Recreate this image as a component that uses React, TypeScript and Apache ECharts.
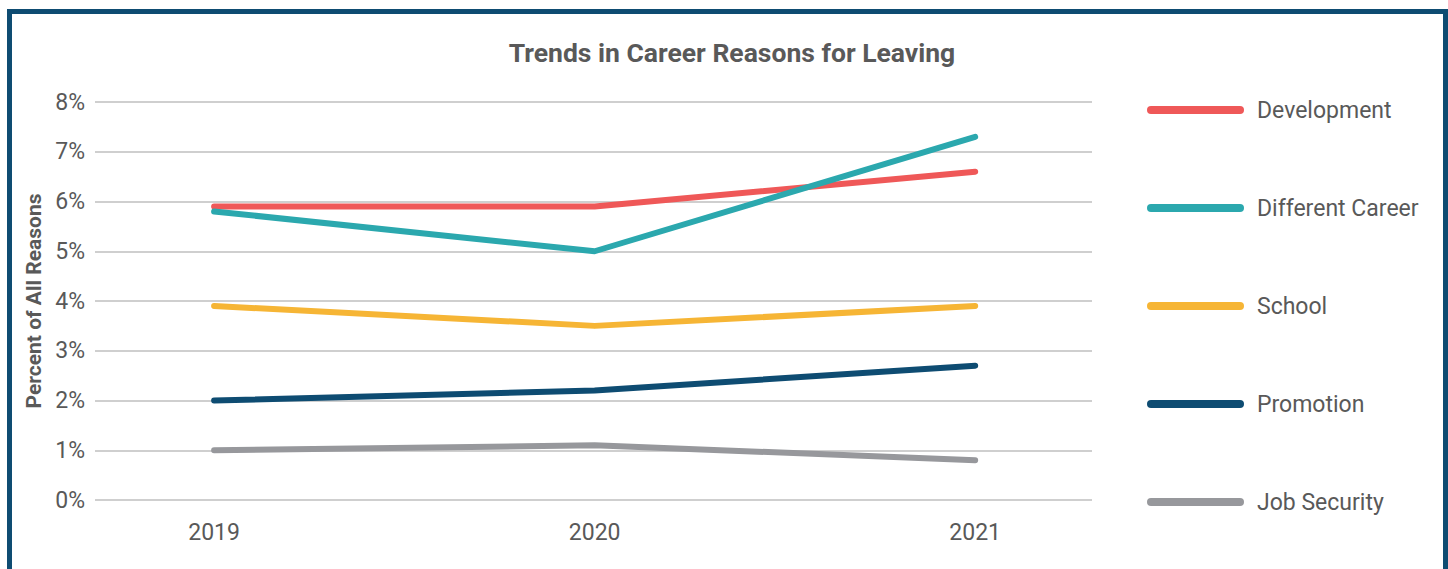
import React, { useEffect, useRef } from "react";
import * as echarts from "echarts";

const years = [2019, 2020, 2021];
const yTicks = [0, 1, 2, 3, 4, 5, 6, 7, 8];
const seriesNames = ["Development", "Different Career", "School", "Promotion", "Job Security"];
const development = [5.9, 5.9, 6.6];
const differentCareer = [5.8, 5.0, 7.3];
const school = [3.9, 3.5, 3.9];
const promotion = [2.0, 2.2, 2.7];
const jobSecurity = [1.0, 1.1, 0.8];
const colors = ["#EF5858", "#2BA8AE", "#F6B535", "#0E4C72", "#97989C"];

const FONT = "Roboto, 'Noto Sans', sans-serif";

export default function App() {
  const ref = useRef<HTMLDivElement>(null);
  useEffect(() => {
    document.body.style.margin = "0";
    document.body.style.overflow = "hidden";
    const chart = echarts.init(ref.current!, null, { renderer: "svg" });
    const values = [development, differentCareer, school, promotion, jobSecurity];
    chart.setOption({
      animation: false,
      title: {
        text: "Trends in Career Reasons for Leaving",
        left: 727,
        top: 34,
        textAlign: "center",
        textStyle: { fontFamily: FONT, fontSize: 26.5, fontWeight: "bold", color: "#595959" },
      },
      grid: { left: 95, right: 356, top: 102, bottom: 69, containLabel: false },
      legend: {
        orient: "vertical",
        left: 1142,
        top: 93,
        itemWidth: 97,
        itemHeight: 8,
        itemGap: 74,
        icon: "path://M4,0 H93 A4,4 0 0 1 93,8 H4 A4,4 0 0 1 4,0 Z",
        textStyle: { fontFamily: FONT, fontSize: 23, color: "#595959", lineHeight: 24, padding: [0, 0, 0, 8] },
        data: seriesNames,
      },
      xAxis: {
        type: "value",
        min: 2018.687,
        max: 2021.307,
        axisLine: { show: false },
        axisTick: { show: false },
        splitLine: { show: false },
        axisLabel: {
          customValues: years,
          margin: 21,
          fontFamily: FONT,
          fontSize: 23,
          color: "#595959",
          formatter: (v: number) => String(v),
        },
      },
      yAxis: {
        type: "value",
        min: yTicks[0],
        max: yTicks[yTicks.length - 1],
        interval: 1,
        name: "Percent of All Reasons",
        nameLocation: "middle",
        nameGap: 50,
        nameTextStyle: { fontFamily: FONT, fontSize: 21, fontWeight: "bold", color: "#595959" },
        axisLine: { show: false },
        axisTick: { show: false },
        splitLine: { lineStyle: { color: "#BFBFBF", width: 1.5 } },
        axisLabel: {
          margin: 10,
          fontFamily: FONT,
          fontSize: 23,
          color: "#595959",
          formatter: (v: number) => v + "%",
        },
      },
      series: seriesNames.map((name, i) => ({
        name,
        type: "line",
        symbol: "none",
        color: colors[i],
        lineStyle: { width: 6, color: colors[i], cap: "round", join: "round" },
        data: years.map((y, j) => [y, values[i][j]]),
      })),
    });
    return () => chart.dispose();
  }, []);
  return (
    <div>
      <div
        style={{
          position: "absolute",
          left: 7,
          top: 9,
          width: 1441,
          height: 570,
          border: "5px solid #0E4C72",
          borderBottom: "none",
          boxSizing: "border-box",
        }}
      />
      <div ref={ref} style={{ position: "absolute", left: 0, top: 0, width: 1448, height: 569 }} />
    </div>
  );
}
